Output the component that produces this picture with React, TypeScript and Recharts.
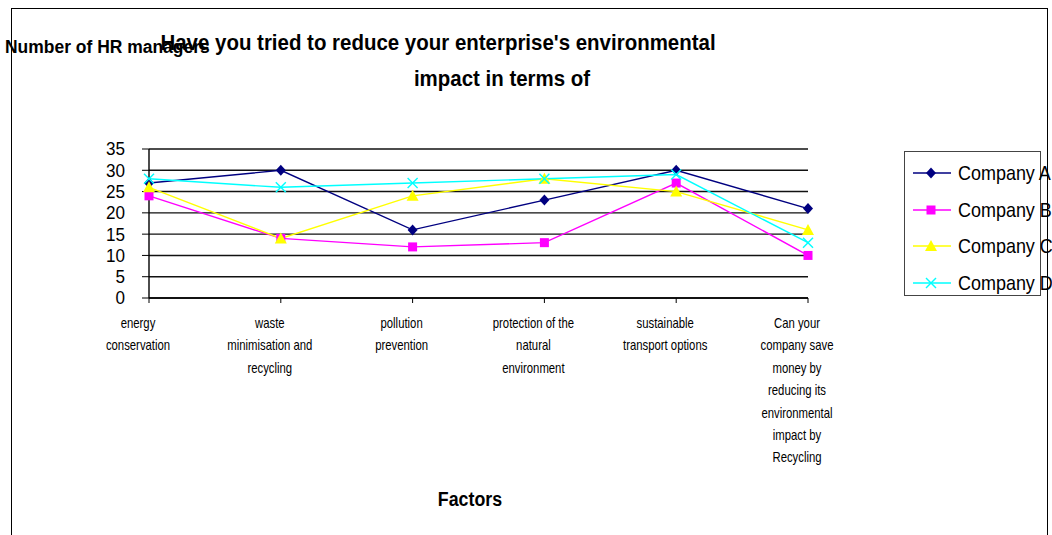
import React from "react";
import { LineChart, Line, XAxis, YAxis, CartesianGrid } from "recharts";

// survey answers per factor, one array per company
const factors = [
  "energy conservation",
  "waste minimisation and recycling",
  "pollution prevention",
  "protection of the natural environment",
  "sustainable transport options",
  "Can your company save money by reducing its environmental impact by Recycling",
];
const factorLabels = [
  ["energy", "conservation"],
  ["waste", "minimisation and", "recycling"],
  ["pollution", "prevention"],
  ["protection of the", "natural", "environment"],
  ["sustainable", "transport options"],
  ["Can your", "company save", "money by", "reducing its", "environmental", "impact by", "Recycling"],
];
const companyA = [27, 30, 16, 23, 30, 21];
const companyB = [24, 14, 12, 13, 27, 10];
const companyC = [26, 14, 24, 28, 25, 16];
const companyD = [28, 26, 27, 28, 29, 13];
const yTicks = [0, 5, 10, 15, 20, 25, 30, 35];

const FONT = '"Liberation Sans", Arial, sans-serif';

const data = factors.map((f, i) => ({
  factor: f,
  a: companyA[i],
  b: companyB[i],
  c: companyC[i],
  d: companyD[i],
}));

type Shape = "diamond" | "square" | "triangle" | "cross";

const series: { key: string; name: string; color: string; shape: Shape }[] = [
  { key: "a", name: "Company A", color: "#000080", shape: "diamond" },
  { key: "b", name: "Company B", color: "#FF00FF", shape: "square" },
  { key: "c", name: "Company C", color: "#FFFF00", shape: "triangle" },
  { key: "d", name: "Company D", color: "#00FFFF", shape: "cross" },
];

function Marker({ cx, cy, shape, color }: { cx: number; cy: number; shape: Shape; color: string }) {
  if (shape === "diamond") {
    return <polygon points={`${cx},${cy - 5.5} ${cx + 5},${cy} ${cx},${cy + 5.5} ${cx - 5},${cy}`} fill={color} />;
  }
  if (shape === "square") {
    return <rect x={cx - 4.5} y={cy - 4.5} width={9} height={9} fill={color} />;
  }
  if (shape === "triangle") {
    return <polygon points={`${cx},${cy - 6} ${cx + 6},${cy + 5} ${cx - 6},${cy + 5}`} fill={color} />;
  }
  return (
    <g stroke={color} strokeWidth={1.4}>
      <line x1={cx - 5} y1={cy - 5} x2={cx + 5} y2={cy + 5} />
      <line x1={cx - 5} y1={cy + 5} x2={cx + 5} y2={cy - 5} />
    </g>
  );
}

// multi-line category label, drawn in a narrowed face
function FactorTick(props: any) {
  const { x, payload } = props;
  const lines = factorLabels[payload.index] || [];
  return (
    <g transform={`translate(${x - 11}, 0)`}>
      <text transform="scale(0.81, 1)" x={0} y={328} textAnchor="middle" fontFamily={FONT} fontSize={14} fill="#000">
        {lines.map((l, i) => (
          <tspan key={i} x={0} dy={i === 0 ? 0 : 22.4}>
            {l}
          </tspan>
        ))}
      </text>
    </g>
  );
}

function CountTick(props: any) {
  const { x, y, payload } = props;
  return (
    <g transform={`translate(${x}, ${y})`}>
      <text transform="scale(0.95, 1)" x={0} y={0} dy="0.36em" textAnchor="end" fontFamily={FONT} fontSize={18} fill="#000">
        {payload.value}
      </text>
    </g>
  );
}

function CompanyLegend() {
  return (
    <div
      style={{
        position: "absolute",
        left: 904,
        top: 151,
        width: 137,
        height: 145,
        border: "1px solid #444",
        boxSizing: "border-box",
        fontFamily: FONT,
        fontSize: 21,
      }}
    >
      {series.map((s, i) => (
        <div key={s.key} style={{ position: "absolute", left: -1, top: 21 + i * 36.5 - 12, height: 24, whiteSpace: "nowrap" }}>
          <svg width={50} height={24} style={{ position: "absolute", left: 0, top: 0 }}>
            <line x1={9} y1={12} x2={47} y2={12} stroke={s.color} strokeWidth={1.4} />
            <Marker cx={27} cy={12} shape={s.shape} color={s.color} />
          </svg>
          <span
            style={{
              position: "absolute",
              left: 54,
              top: 0,
              lineHeight: "24px",
              color: "#000",
              transform: "scaleX(0.855)",
              transformOrigin: "0 50%",
            }}
          >
            {s.name}
          </span>
        </div>
      ))}
    </div>
  );
}

const boldText: React.CSSProperties = {
  position: "absolute",
  fontFamily: FONT,
  fontWeight: "bold",
  whiteSpace: "nowrap",
  textAlign: "center",
};

export default function App() {
  return (
    <div style={{ position: "absolute", left: 0, top: 0, width: 1052, height: 535, overflow: "hidden", background: "#fff" }}>
      <div style={{ position: "absolute", left: 11, top: 8, width: 1035, height: 540, border: "1px solid #000" }} />
      <LineChart
        width={1052}
        height={535}
        data={data}
        margin={{ top: 149, right: 244, bottom: 207, left: 89 }}
        style={{ position: "absolute", left: 0, top: 0 }}
      >
        <CartesianGrid vertical={false} horizontal stroke="#111" strokeWidth={1.4} />
        <XAxis
          dataKey="factor"
          interval={0}
          tick={<FactorTick />}
          tickSize={5}
          axisLine={{ stroke: "#000", strokeWidth: 1.4 }}
          tickLine={{ stroke: "#000" }}
          height={30}
        />
        <YAxis
          domain={[0, 35]}
          ticks={yTicks}
          interval={0}
          width={60}
          tickSize={7}
          tickMargin={17}
          axisLine={{ stroke: "#000", strokeWidth: 1.4 }}
          tickLine={{ stroke: "#000" }}
          tick={<CountTick />}
        />
        {series.map((s) => (
          <Line
            key={s.key}
            dataKey={s.key}
            name={s.name}
            stroke={s.color}
            strokeWidth={1.4}
            isAnimationActive={false}
            dot={(p: any) => <Marker key={`${s.key}-${p.index}`} cx={p.cx} cy={p.cy} shape={s.shape} color={s.color} />}
            activeDot={false}
          />
        ))}
      </LineChart>
      <CompanyLegend />
      <div style={{ ...boldText, left: 5, top: 37, fontSize: 18, textAlign: "left", transform: "scaleX(0.97)", transformOrigin: "0 50%" }}>
        Number of HR managers
      </div>
      <div style={{ ...boldText, left: 0, width: 876, top: 30, fontSize: 22, transform: "scaleX(0.93)" }}>
        Have you tried to reduce your enterprise's environmental
      </div>
      <div style={{ ...boldText, left: 0, width: 1004, top: 66, fontSize: 22, transform: "scaleX(0.93)" }}>
        impact in terms of
      </div>
      <div style={{ ...boldText, left: 0, width: 940, top: 488, fontSize: 20, transform: "scaleX(0.89)" }}>
        Factors
      </div>
    </div>
  );
}
